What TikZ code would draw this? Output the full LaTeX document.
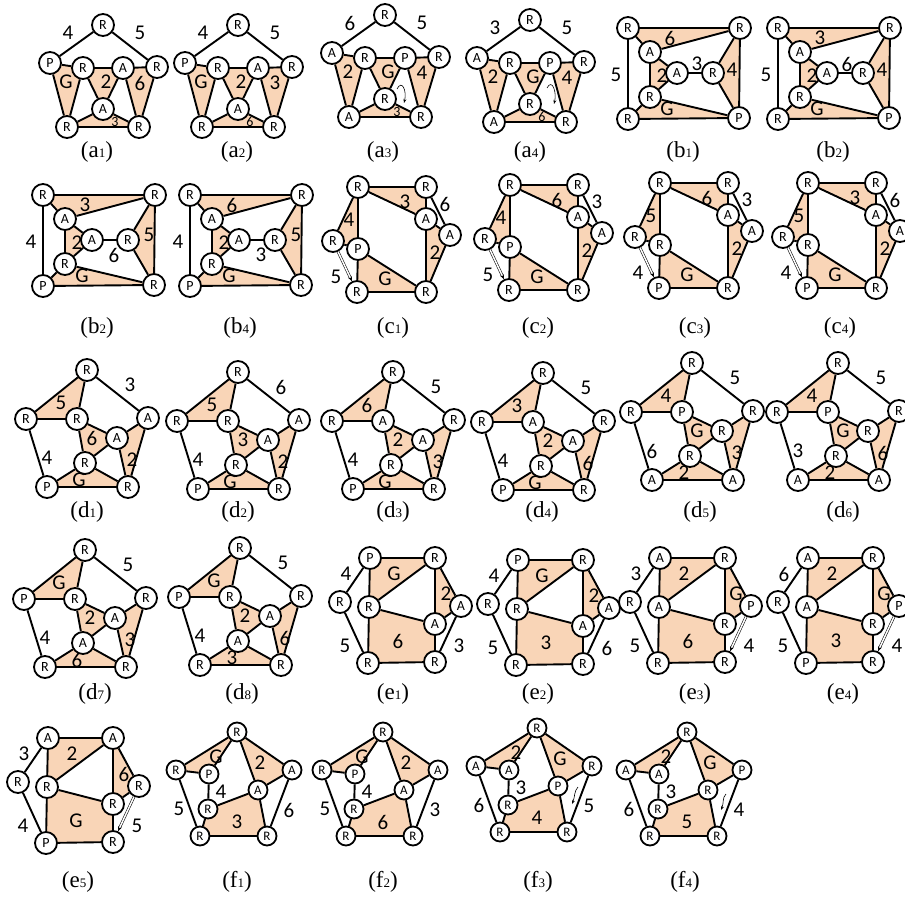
\documentclass[tikz,border=0pt]{standalone}
\usepackage{fontspec}
\setmainfont{Liberation Serif}
\setsansfont{Carlito}
\usetikzlibrary{arrows.meta}
\definecolor{peach}{HTML}{F9D5B7}
\pgfdeclarelayer{bg}
\pgfsetlayers{bg,main}

\newcommand\lowlbl[1]{{\fontsize{14}{14}\selectfont #1}}
\newcommand\capsub[1]{{\fontsize{13}{13}\selectfont #1}}

% vertex places, edges, faces and label places of the five kinds of graph
\newcommand\geoA{0/0,-53/38,-20/43,20/43,54/42,0/84,-36/102,36/102}
\newcommand\edgA{1/2,1/5,2/3,3/4,4/5,2/7,3/7,3/6,4/6,4/8,5/8,6/7,6/8,7/8}
\newcommand\facA{2/3/7/2,3/4/6/3,4/5/8/4,6/7/8/6}
\newcommand\lblA{-35/8,37/8,-37/57,3/57,37/58,12/97}

\newcommand\geoB{0/0,112/0,22/24,49/45,85/45,22/69,0/91,111/90}
\newcommand\edgB{1/2,1/7,2/8,7/8,1/3,3/2,3/4,3/6,4/6,4/5,5/2,5/8,6/8,6/7}
\newcommand\facB{1/2/3/1,3/4/6/3,2/5/8/2,6/8/7/6}
\newcommand\lblB{-12/47,42/10,69/36,34/48,104/42,39/81}
\newcommand\lblBb{-12/47,42/10,71/60,34/48,106/40,39/81}

\newcommand\geoC{0/0,68/0,68/32,92/48,-25/54,0/62,-1/105,68/105}
\newcommand\edgC{1/2,1/3,2/3,2/4,3/4,3/8,4/8,1/5,1/6,5/6,6/7,6/8,7/8}
\newcommand\facC{1/2/3/1,3/4/8/3,1/5/6/1,6/7/8/6}
\newcommand\lblC{47/15,87/17,-9/33,77/66,-22/90,27/92}

\newcommand\geoD{0/0,-61/49,-10/49,61/48,30/68,-2/93,-40/117,41/117}
\newcommand\edgD{1/2,1/3,2/3,1/4,2/7,3/5,3/6,5/6,5/4,5/8,4/8,6/7,6/8,7/8}
\newcommand\facD{1/2/3/1,3/5/6/3,5/4/8/5,6/7/8/6}
\newcommand\lblD{-26/33,43/15,5/68,-40/88,45/90,-8/110}

\newcommand\geoE{0/0,65/0,-30/44,-1/49,65/66,91/48,-2/105,65/104}
\newcommand\edgE{1/2,1/3,1/4,4/2,2/5,2/6,5/6,4/5,4/7,5/8,7/8,3/7}
\newcommand\facE{1/2/4/1,2/6/5/2,4/5/8/7}
\newcommand\lblE{-24/16,24/16,76/36,28/83,-25/88,89/88}

\newcommand\geoF{0/0,-61/38,-28/42,55/38,21/58,-29/77,-37/104,30/104}
\newcommand\edgF{1/2,1/3,2/3,1/5,1/4,5/4,3/6,6/5,6/7,5/8,7/8,2/7,4/8}
\newcommand\facF{1/2/3/1,1/5/4/1,6/5/8/7}
\newcommand\lblF{-21/25,23/31,-16/60,-58/77,0/90,52/78}

\newcommand\drawpanel[8]{%
  \begin{scope}[#2]
    \foreach \x/\y [count=\i] in #3 {\coordinate (#1-p\i) at (\x,\y);}
    \foreach \vl [count=\i] in {#4} {\node[vtx] (#1-\i) at (#1-p\i) {\vl};}
    \foreach \ea/\eb in #5 {\draw[edge] (#1-\ea) -- (#1-\eb);}
    \begin{pgfonlayer}{bg}
      \foreach \fa/\fb/\fc/\fd in #6 {\fill[face] (#1-\fa.center) -- (#1-\fb.center) -- (#1-\fc.center) -- (#1-\fd.center) -- cycle;}
    \end{pgfonlayer}
    \foreach \x/\y [count=\i] in #7 {\coordinate (#1-q\i) at (\x,\y);}
    \foreach \lb [count=\i] in {#8} {\node[lbl] (#1-t\i) at (#1-q\i) {\lb};}
  \end{scope}}

\begin{document}
\begin{tikzpicture}[x=1pt, y=-1pt,
    vtx/.style={circle, draw, fill=white, line width=1.8pt, minimum size=22pt, inner sep=0pt, font=\fontsize{14}{14}\selectfont\sffamily},
    tight/.style={vtx/.append style={minimum size=19pt, font=\fontsize{13}{13}\selectfont\sffamily}},
    edge/.style={line width=1.9pt},
    face/.style={fill=peach},
    lbl/.style={inner sep=0pt, font=\fontsize{21}{21}\selectfont\sffamily},
    tag/.style={font=\fontsize{23}{23}\selectfont\rmfamily},
    move/.style={double, line width=0.55pt, double distance=1.5pt, -{Stealth[length=5pt, width=4pt]}},
    curl/.style={line width=0.6pt, -{Stealth[length=4pt, width=3pt]}}]
\useasboundingbox (0,0) rectangle (905,897);

\drawpanel{a1}{shift={(103,25)}}{\geoA}{R,P,R,A,R,A,R,R}{\edgA}{\facA}{\lblA}{4,5,G,2,6,\lowlbl3}
\drawpanel{a2}{shift={(238,25)}}{\geoA}{R,P,R,A,R,A,R,R}{\edgA}{\facA}{\lblA}{4,5,G,2,3,\lowlbl6}
\drawpanel{a3}{shift={(385,15)}}{\geoA}{R,A,R,P,R,R,A,R}{\edgA}{\facA}{\lblA}{6,5,2,G,4,\lowlbl3}
\drawpanel{a4}{shift={(530,20)}}{\geoA}{R,A,R,P,R,R,A,R}{\edgA}{\facA}{\lblA}{3,5,2,G,4,\lowlbl6}
\coordinate (a3-s) at ([shift={(12,74)}]a3-1.center);
\coordinate (a3-e) at ([shift={(19,88)}]a3-1.center);
\draw[curl] (a3-s) .. controls +(5,-10) and +(3,-12) .. (a3-e);
\coordinate (a4-s) at ([shift={(17,68)}]a4-1.center);
\coordinate (a4-e) at ([shift={(24,84)}]a4-1.center);
\draw[curl] (a4-s) .. controls +(5,-10) and +(3,-12) .. (a4-e);
\drawpanel{b1}{shift={(628,28)}}{\geoB}{R,R,A,A,R,R,R,P}{\edgB}{\facB}{\lblB}{5,6,3,2,4,G}
\drawpanel{b2}{shift={(778,28)}}{\geoB}{R,R,A,A,R,R,R,P}{\edgB}{\facB}{\lblB}{5,3,6,2,4,G}

\drawpanel{b3}{shift={(43,195)}}{\geoB}{R,R,A,A,R,R,P,R}{\edgB}{\facB}{\lblBb}{4,3,6,2,5,G}
\drawpanel{b4}{shift={(190,195)}}{\geoB}{R,R,A,A,R,R,P,R}{\edgB}{\facB}{\lblBb}{4,6,3,2,5,G}
\drawpanel{c1}{shift={(358,187)}}{\geoC}{R,R,A,A,R,P,R,R}{\edgC}{\facC}{\lblC}{3,6,4,2,5,G}
\drawpanel{c2}{shift={(510,185)}}{\geoC}{R,R,A,A,R,P,R,R}{\edgC}{\facC}{\lblC}{6,3,4,2,5,G}
\drawpanel{c3}{shift={(660,183)}}{\geoC}{R,R,A,A,R,R,P,R}{\edgC}{\facC}{\lblC}{6,3,5,2,4,G}
\drawpanel{c4}{shift={(808,183)}}{\geoC}{R,R,A,A,R,R,P,R}{\edgC}{\facC}{\lblC}{3,6,5,2,4,G}
\foreach \n in {c1,c2,c3,c4} {\draw[move] (\n-5) -- (\n-7);}

\drawpanel{d1}{shift={(87,370)}}{\geoD}{R,R,R,A,A,R,P,R}{\edgD}{\facD}{\lblD}{5,3,6,4,2,G}
\drawpanel{d2}{shift={(238,372)}}{\geoD}{R,R,R,A,A,R,P,R}{\edgD}{\facD}{\lblD}{5,6,3,4,2,G}
\drawpanel{d3}{shift={(393,372)}}{\geoD}{R,R,A,R,A,R,P,R}{\edgD}{\facD}{\lblD}{6,5,2,4,3,G}
\drawpanel{d4}{shift={(543,373)}}{\geoD}{R,R,A,R,A,R,P,R}{\edgD}{\facD}{\lblD}{3,5,2,4,6,G}
\drawpanel{d5}{shift={(692,363)}}{\geoD}{R,R,P,R,R,R,A,A}{\edgD}{\facD}{\lblD}{4,5,G,6,3,2}
\drawpanel{d6}{shift={(838,363)}}{\geoD}{R,R,P,R,R,R,A,A}{\edgD}{\facD}{\lblD}{4,5,G,3,6,2}

\drawpanel{d7}{shift={(85,550)}}{\geoD}{R,P,R,R,A,A,R,R}{\edgD}{\facD}{\lblD}{G,5,2,4,3,6}
\drawpanel{d8}{shift={(240,548)}}{\geoD}{R,P,R,R,A,A,R,R}{\edgD}{\facD}{\lblD}{G,5,2,4,6,3}
\drawpanel{e1}{shift={(370,558)}}{\geoE}{P,R,R,R,A,A,R,R}{\edgE}{\facE}{\lblE}{4,G,2,6,5,3}
\drawpanel{e2}{shift={(518,560)}}{\geoE}{P,R,R,R,A,A,R,R}{\edgE}{\facE}{\lblE}{4,G,2,3,5,6}
\drawpanel{e3}{shift={(660,558)}}{\geoE}{A,R,R,A,R,P,R,R}{\edgE}{\facE}{\lblE}{3,2,G,6,5,4}
\drawpanel{e4}{shift={(808,558)}}{\geoE}{A,R,R,A,R,P,P,R}{\edgE}{\facE}{\lblE}{6,2,G,3,5,4}
\draw[edge] (e1-6) -- (e1-8);
\draw[edge] (e2-6) -- (e2-8);
\draw[move] (e3-6) -- (e3-8);
\draw[move] (e4-6) -- (e4-8);

\drawpanel{e5}{shift={(48,738)}}{\geoE}{A,A,R,R,R,R,P,R}{\edgE}{\facE}{\lblE}{3,2,6,G,4,5}
\draw[move] (e5-6) -- (e5-8);
\drawpanel{f1}{shift={(237,732)}, tight}{\geoF}{R,R,P,A,A,R,R,R}{\edgF}{\facF}{\lblF}{G,2,4,5,3,6}
\drawpanel{f2}{shift={(383,732)}, tight}{\geoF}{R,R,P,A,A,R,R,R}{\edgF}{\facF}{\lblF}{G,2,4,5,6,3}
\drawpanel{f3}{shift={(537,728)}, tight}{\geoF}{R,A,A,R,P,R,R,R}{\edgF}{\facF}{\lblF}{2,G,3,6,4,5}
\drawpanel{f4}{shift={(687,732)}, tight}{\geoF}{R,A,A,P,R,R,R,R}{\edgF}{\facF}{\lblF}{2,G,3,6,5,4}
\coordinate (f3-s) at ([shift={(41,59)}]f3-1.center);
\coordinate (f3-e) at ([shift={(35,76)}]f3-1.center);
\draw[curl] (f3-s) .. controls +(-4,4) and +(3,-7) .. (f3-e);
\coordinate (f4-s) at ([shift={(39,62)}]f4-1.center);
\coordinate (f4-e) at ([shift={(34,78)}]f4-1.center);
\draw[curl] (f4-s) .. controls +(-4,4) and +(3,-7) .. (f4-e);

\foreach \n/\k/\x/\y [count=\i] in {a/1/97/152, a/2/237/152, a/3/383/152, a/4/530/152, b/1/683/152, b/2/833/152,
    b/2/97/328, b/4/240/328, c/1/393/328, c/2/538/328, c/3/695/328, c/4/840/328,
    d/1/87/512, d/2/238/512, d/3/393/512, d/4/542/512, d/5/700/512, d/6/843/512,
    d/7/95/694, d/8/242/694, e/1/393/694, e/2/538/694, e/3/695/694, e/4/843/694,
    e/5/78/882, f/1/237/882, f/2/383/882, f/3/538/882, f/4/685/882}
  \node[tag] (tag\i) at (\x,\y) {(\n\capsub{\k})};
\end{tikzpicture}
\end{document}
